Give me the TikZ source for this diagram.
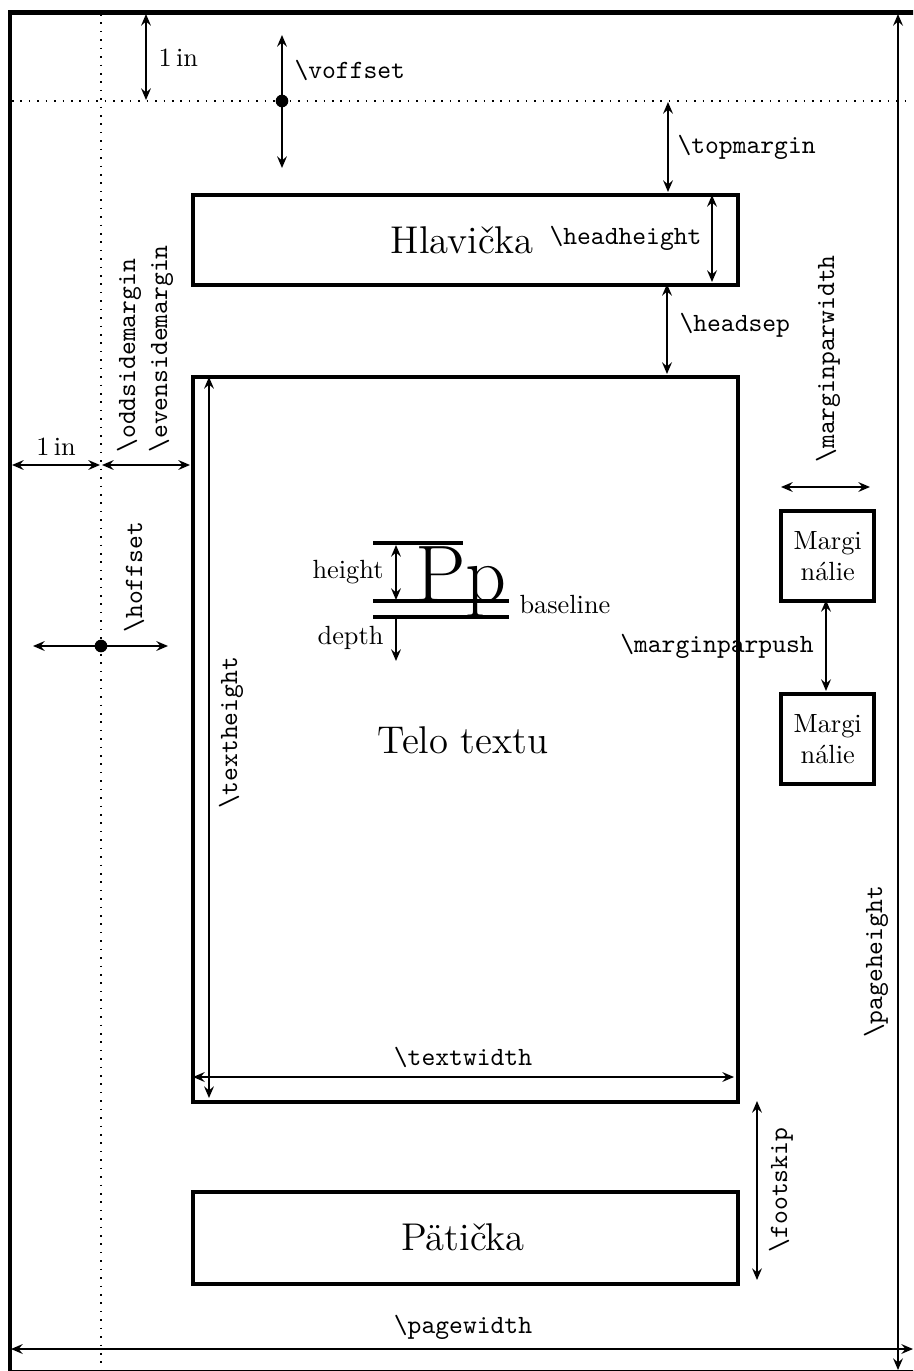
\documentclass[tikz,border=0pt]{standalone}
\usepackage{fontspec}
\usetikzlibrary{arrows.meta}
\def\pxu{0.38pt}
\begin{document}
\begin{tikzpicture}[x=0.38pt,y=-0.38pt,
  frame/.style={line width=1.7pt},
  box/.style={draw,line width=1.7pt,inner sep=0pt,anchor=north west},
  dim/.style={line width=1pt,{Stealth[length=4.4pt,width=3.7pt,inset=1.5pt]}-{Stealth[length=4.4pt,width=3.7pt,inset=1.5pt]}},
  dimone/.style={line width=1pt,-{Stealth[length=4.4pt,width=3.7pt,inset=1.5pt]}},
  guide/.style={line width=0.6pt,dash pattern=on 0.6pt off 2.6pt},
  tt/.style={font=\ttfamily,inner sep=0pt},
  lbl/.style={inner sep=0pt},
  big/.style={font=\fontsize{14.7}{17}\selectfont,inner sep=0pt},
  dot/.style={circle,fill,inner sep=0pt,minimum size=4.8pt},
  pline/.style={line width=1.3pt}
]
\useasboundingbox (0,0) rectangle (913,1371);
\clip (0,0) rectangle (913,1371);

% page frame and guides
\draw[frame] (10,12.5) rectangle (918,1372.5);
\draw[guide] (12,101) -- (913,101);
\draw[guide] (101,14) -- (101,1371);

% boxes
\node[box,minimum width=545*\pxu,minimum height=90*\pxu] (head) at (191,193) {};
\node[box,minimum width=545*\pxu,minimum height=725*\pxu] (body) at (191,375) {};
\node[box,minimum width=545*\pxu,minimum height=92*\pxu] (foot) at (191,1190) {};
\node[box,minimum width=93*\pxu,minimum height=90*\pxu] (marg1) at (779,509) {};
\node[box,minimum width=93*\pxu,minimum height=90*\pxu] (marg2) at (779,692) {};

% box texts
\node[big] (headtxt) at (462,240) {Hlavička};
\node[big] (bodytxt) at (463,740) {Telo textu};
\node[big] (foottxt) at (463,1237) {Pätička};
\node[lbl,align=center] (m1txt) at (marg1.center) {Margi\\nálie};
\node[lbl,align=center] (m2txt) at (marg2.center) {Margi\\nálie};

% coordinates
\coordinate (a1t) at (146,14);   \coordinate (a1b) at (146,100);
\coordinate (vot) at (282,35);   \coordinate (vob) at (282,168);
\coordinate (tmt) at (668,102);  \coordinate (tmb) at (668,192);
\coordinate (hht) at (712,195);  \coordinate (hhb) at (712,282);
\coordinate (hst) at (667,284);  \coordinate (hsb) at (667,374);
\coordinate (i1l) at (12,465);   \coordinate (i1r) at (100,465);
\coordinate (sml) at (102,465);  \coordinate (smr) at (190,465);
\coordinate (hol) at (33,646);   \coordinate (hor) at (168,646);
\coordinate (tht) at (209,377);  \coordinate (thb) at (209,1098);
\coordinate (twl) at (193,1077); \coordinate (twr) at (734,1077);
\coordinate (het) at (396,545);  \coordinate (heb) at (396,600);
\coordinate (det) at (396,618);  \coordinate (deb) at (396,661);
\coordinate (mwl) at (781,487);  \coordinate (mwr) at (870,487);
\coordinate (mpt) at (826,600);  \coordinate (mpb) at (826,691);
\coordinate (fst) at (757,1101); \coordinate (fsb) at (757,1280);
\coordinate (pwl) at (11,1349);  \coordinate (pwr) at (913,1349);
\coordinate (pht) at (898,14);   \coordinate (phb) at (898,1370);

% dimension arrows
\draw[dim] (a1t) -- (a1b);
\draw[dim] (vot) -- (vob);
\draw[dim] (tmt) -- (tmb);
\draw[dim] (hht) -- (hhb);
\draw[dim] (hst) -- (hsb);
\draw[dim] (i1l) -- (i1r);
\draw[dim] (sml) -- (smr);
\draw[dim] (hol) -- (hor);
\draw[dim] (tht) -- (thb);
\draw[dim] (twl) -- (twr);
\draw[dim] (het) -- (heb);
\draw[dimone] (det) -- (deb);
\draw[dim] (mwl) -- (mwr);
\draw[dim] (mpt) -- (mpb);
\draw[dim] (fst) -- (fsb);
\draw[dim] (pwl) -- (pwr);
\draw[dim] (pht) -- (phb);

\node[dot] (vodot) at (282,101) {};
\node[dot] (hodot) at (101,646) {};

% Pp sample
\node[inner sep=0pt,anchor=base west,font=\fontsize{30.5}{31}\selectfont] (pp) at (415,601) {Pp};
\draw[pline] (373,543) -- (463,543);
\draw[pline] (373,601) -- (509,601);
\draw[pline] (373,617) -- (509,617);
\node[lbl,anchor=east] (hlab) at (384,572) {height};
\node[lbl,anchor=east] (dlab) at (384,638) {depth};
\node[lbl,anchor=west] (blab) at (519,605) {baseline};

% labels
\node[lbl,anchor=west] (l1in) at (158,58) {1\,in};
\node[lbl,anchor=center] (l1inh) at (56,447) {1\,in};
\node[tt,anchor=west] (lvo) at (294,70) {\textbackslash voffset};
\node[tt,anchor=west] (ltm) at (677,147) {\textbackslash topmargin};
\node[tt,anchor=west] (lhh) at (549,238) {\textbackslash headheight};
\node[tt,anchor=west] (lhs) at (679,325) {\textbackslash headsep};
\node[tt,anchor=west,rotate=90] (lodd) at (129,453) {\textbackslash oddsidemargin};
\node[tt,anchor=west,rotate=90] (lev) at (161,453) {\textbackslash evensidemargin};
\node[tt,anchor=west,rotate=90] (lho) at (134,633) {\textbackslash hoffset};
\node[tt,rotate=90] (lth) at (231,733) {\textbackslash textheight};
\node[tt,anchor=west,rotate=90] (lmw) at (828,463) {\textbackslash marginparwidth};
\node[tt] (lmp) at (717,646) {\textbackslash marginparpush};
\node[tt] (ltw) at (463,1057) {\textbackslash textwidth};
\node[tt,rotate=90] (lfs) at (781,1190) {\textbackslash footskip};
\node[tt] (lpw) at (463,1327) {\textbackslash pagewidth};
\node[tt,rotate=90] (lph) at (876,962) {\textbackslash pageheight};
\end{tikzpicture}
\end{document}
